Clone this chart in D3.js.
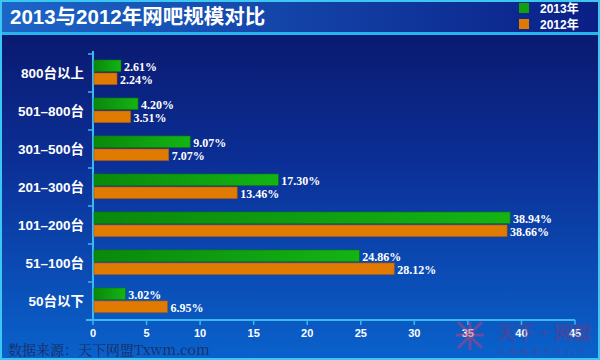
<!DOCTYPE html>
<html><head><meta charset="utf-8">
<script src="https://cdn.jsdelivr.net/npm/d3@7"></script>
<style>html,body{margin:0;padding:0;background:#fff}svg{display:block}</style>
</head><body>
<svg id="c" width="600" height="360"></svg>
<script>
const categories = ["800台以上","501–800台","301–500台","201–300台","101–200台","51–100台","50台以下"];
const values2013 = [2.61,4.20,9.07,17.30,38.94,24.86,3.02];
const values2012 = [2.24,3.51,7.07,13.46,38.66,28.12,6.95];
const seriesNames = ["2013年","2012年"];
const xTicks = [0,5,10,15,20,25,30,35,40,45];

const svg = d3.select("#c");
const W=600,H=360;
const defs = svg.append("defs");
const bg = defs.append("linearGradient").attr("id","bg").attr("x1",0).attr("y1",0).attr("x2",0).attr("y2",1);
bg.append("stop").attr("offset","0%").attr("stop-color","#0a1466");
bg.append("stop").attr("offset","45%").attr("stop-color","#0b2f96");
bg.append("stop").attr("offset","100%").attr("stop-color","#0a62cc");
const tb = defs.append("linearGradient").attr("id","tb").attr("x1",0).attr("y1",0).attr("x2",1).attr("y2",0);
tb.append("stop").attr("offset","0%").attr("stop-color","#1c66c8");
tb.append("stop").attr("offset","100%").attr("stop-color","#0a1f86");
const gg = defs.append("linearGradient").attr("id","gg").attr("x1",0).attr("y1",0).attr("x2",1).attr("y2",0);
gg.append("stop").attr("offset","0%").attr("stop-color","#0a880a");
gg.append("stop").attr("offset","100%").attr("stop-color","#14b414");

svg.append("rect").attr("x",0).attr("y",0).attr("width",W).attr("height",H).attr("fill","url(#bg)");
svg.append("rect").attr("x",0).attr("y",0).attr("width",W).attr("height",33).attr("fill","url(#tb)");
svg.append("rect").attr("x",0).attr("y",32).attr("width",W).attr("height",3).attr("fill","#2ab4ee");
svg.append("rect").attr("x",1).attr("y",1).attr("width",W-2).attr("height",H-2).attr("fill","none").attr("stroke","#3cc6f2").attr("stroke-width",2);

svg.append("text").attr("x",10).attr("y",24).attr("fill","#fff").attr("font-family","Arial, 'Noto Sans CJK SC', sans-serif")
  .attr("font-weight","bold").attr("font-size",20.5).text("2013与2012年网吧规模对比");

// legend
const colors = ["url(#gg)","#e07a00"];
seriesNames.forEach((n,i)=>{
  svg.append("rect").attr("x",519).attr("y",3+i*16).attr("width",10).attr("height",10).attr("fill",i?"#e07a00":"#12a012");
  svg.append("text").attr("x",540).attr("y",13+i*16).attr("fill","#fff").attr("font-family","Arial, 'Noto Sans CJK SC', sans-serif")
    .attr("font-weight","bold").attr("font-size",12).text(n);
});

const x = d3.scaleLinear().domain([0,45]).range([93,575]);
const y = d3.scaleBand().domain(categories).range([54,320]).paddingInner(0).paddingOuter(0);
const bh = 11.5;

// axes
const yAxis = svg.append("g").attr("transform","translate(93,0)");
yAxis.append("line").attr("x1",0).attr("x2",0).attr("y1",y.range()[0]-3).attr("y2",320).attr("stroke","#3ab8f0").attr("stroke-width",2);
yAxis.selectAll("line.t").data(categories).enter().append("line").attr("class","t")
  .attr("x1",-5).attr("x2",0).attr("y1",d=>y(d)).attr("y2",d=>y(d)).attr("stroke","#3ab8f0").attr("stroke-width",1.5);
svg.selectAll("text.cat").data(categories).enter().append("text").attr("class","cat")
  .attr("x",84).attr("y",d=>y(d)+y.bandwidth()/2+5).attr("text-anchor","end").attr("fill","#fff")
  .attr("font-family","Arial, 'Noto Sans CJK SC', sans-serif").attr("font-weight","bold").attr("font-size",13.5).text(d=>d);

const xAxis = svg.append("g").attr("transform","translate(0,320)");
xAxis.append("line").attr("x1",86).attr("x2",x(45)).attr("y1",0).attr("y2",0).attr("stroke","#3ab8f0").attr("stroke-width",2);
xAxis.selectAll("line.t").data(xTicks).enter().append("line").attr("class","t")
  .attr("x1",d=>x(d)).attr("x2",d=>x(d)).attr("y1",0).attr("y2",5).attr("stroke","#3ab8f0").attr("stroke-width",1.5);

// watermark (behind tick labels)
const wm = svg.append("g").attr("opacity",0.5);
const lc = "#c0407c";
wm.append("path").attr("d","M458,322 L470,334 L482,322 M458,348 L470,336 L482,348 M470,322 L470,350 M456,335 L484,335")
  .attr("stroke",lc).attr("stroke-width",3).attr("fill","none");
wm.append("text").attr("x",497).attr("y",340).attr("fill","#6a3a86")
  .attr("font-family","'Noto Sans CJK SC', sans-serif").attr("font-size",19).attr("font-weight","bold").text("天下·网盟");
wm.append("text").attr("x",498).attr("y",354).attr("fill","#6a3a86")
  .attr("font-family","'Noto Sans CJK SC', sans-serif").attr("font-size",7).attr("letter-spacing",4.5).text("中国网吧行业门户");

xAxis.selectAll("text").data(xTicks).enter().append("text").attr("x",d=>x(d)).attr("y",17).attr("text-anchor","middle")
  .attr("fill","#fff").attr("font-family","Arial, sans-serif").attr("font-weight","bold").attr("font-size",11).text(d=>d);

// bars
const series = [values2013, values2012];
series.forEach((vals,si)=>{
  const off = si===0 ? 6 : 6+bh+1.5;
  svg.selectAll("rect.b"+si).data(categories).enter().append("rect").attr("class","b"+si)
    .attr("x",x(0)+1).attr("y",d=>y(d)+off).attr("width",(d,i)=>x(vals[i])-x(0)-1).attr("height",bh)
    .attr("fill",colors[si]).attr("stroke",si?"#b85a00":"#0c7a0c").attr("stroke-width",0.6);
  svg.selectAll("text.v"+si).data(categories).enter().append("text").attr("class","v"+si)
    .attr("x",(d,i)=>x(vals[i])+3).attr("y",d=>y(d)+off+bh-1)
    .attr("fill","#fff").attr("font-family","'Times New Roman','Liberation Serif',serif").attr("font-weight","bold").attr("font-size",12)
    .text((d,i)=>vals[i].toFixed(2)+"%");
});

svg.append("text").attr("x",8).attr("y",355).attr("fill","#1a2c60")
  .attr("font-family","'Noto Serif CJK SC','Noto Sans CJK SC', serif").attr("font-size",14).text("数据来源：天下网盟Txwm.com");
</script>
</body></html>
